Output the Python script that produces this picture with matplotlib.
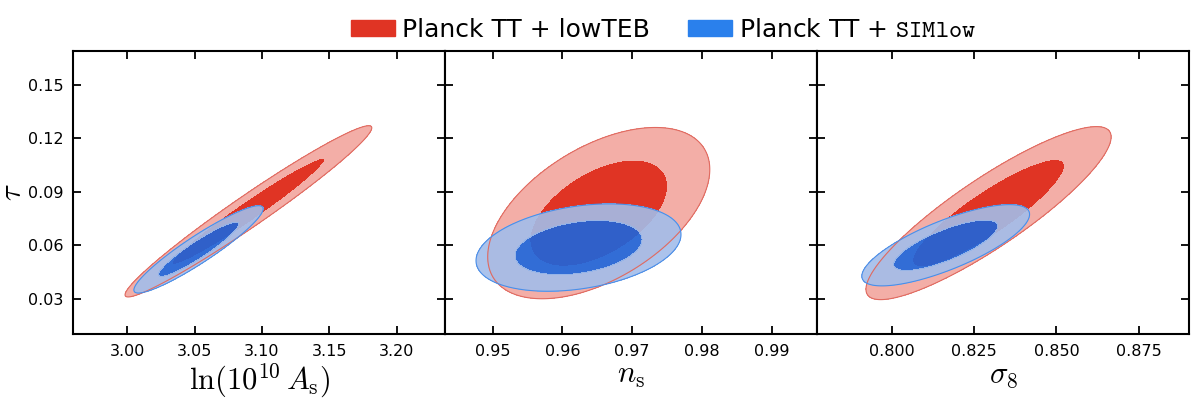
import numpy as np
import matplotlib
matplotlib.use("Agg")
import matplotlib.pyplot as plt
from matplotlib.patches import Patch

plt.rcParams["mathtext.fontset"] = "cm"

# x parameters for the three panels
x_labels = [r"$\ln(10^{10}\,A_{\rm s})$", r"$n_{\rm s}$", r"$\sigma_8$"]
x_limits = [(2.96, 3.236), (0.9432, 0.9965), (0.7774, 0.8903)]
x_ticks = [[3.00, 3.05, 3.10, 3.15, 3.20],
           [0.95, 0.96, 0.97, 0.98, 0.99],
           [0.800, 0.825, 0.850, 0.875]]
x_fmt = ["%.2f", "%.2f", "%.3f"]

tau_limits = (0.0103, 0.169)
tau_ticks = [0.03, 0.06, 0.09, 0.12, 0.15]

# Planck TT + lowTEB (red), gaussian approx per panel
red_mean_x = [3.090, 0.9652, 0.8294]
red_sig_x = [0.0374, 0.0065, 0.0152]
red_mean_tau = [0.079, 0.078, 0.078]
red_sig_tau = [0.0196, 0.0196, 0.0198]
red_rho = [0.975, 0.51, 0.88]

# Planck TT + SIMlow (blue)
blue_mean_x = [3.053, 0.9623, 0.8164]
blue_sig_x = [0.0196, 0.0060, 0.0104]
blue_mean_tau = [0.0577, 0.0587, 0.0600]
blue_sig_tau = [0.0100, 0.0100, 0.0093]
blue_rho = [0.93, 0.30, 0.76]

labels = ["Planck TT + lowTEB", r"Planck TT + $\mathtt{SIMlow}$"]

RED_DARK, RED_LIGHT, RED_LINE = "#E03424", "#F3AEA7", "#E06A60"
BLUE_DARK, BLUE_LIGHT, BLUE_LINE = "#1D66DC", "#A2BDEA", "#4A8EE8"

CHI2 = [0, 2.30, 5.99]


def chi2_grid(xx, yy, mx, sx, my, sy, rho):
    dx = (xx - mx) / sx
    dy = (yy - my) / sy
    return (dx * dx - 2 * rho * dx * dy + dy * dy) / (1 - rho * rho)


fig, axes = plt.subplots(1, 3, figsize=(12, 3.99), dpi=100, sharey=True)
fig.subplots_adjust(left=0.061, right=0.991, bottom=0.163, top=0.873, wspace=0)

for i, ax in enumerate(axes):
    xs = np.linspace(*x_limits[i], 600)
    ys = np.linspace(*tau_limits, 600)
    xx, yy = np.meshgrid(xs, ys)

    c_red = chi2_grid(xx, yy, red_mean_x[i], red_sig_x[i], red_mean_tau[i], red_sig_tau[i], red_rho[i])
    ax.contourf(xx, yy, c_red, levels=CHI2, colors=[RED_DARK, RED_LIGHT])
    ax.contour(xx, yy, c_red, levels=[CHI2[2]], colors=[RED_LINE], linewidths=0.8)

    c_blue = chi2_grid(xx, yy, blue_mean_x[i], blue_sig_x[i], blue_mean_tau[i], blue_sig_tau[i], blue_rho[i])
    ax.contourf(xx, yy, c_blue, levels=CHI2, colors=[BLUE_DARK, BLUE_LIGHT], alpha=0.9)
    ax.contour(xx, yy, c_blue, levels=[CHI2[2]], colors=[BLUE_LINE], linewidths=0.8)

    ax.set_xlim(*x_limits[i])
    ax.set_ylim(*tau_limits)
    ax.set_xticks(x_ticks[i])
    ax.set_xticklabels([x_fmt[i] % t for t in x_ticks[i]])
    ax.set_yticks(tau_ticks)
    ax.set_xlabel(x_labels[i], fontsize=22, labelpad=2)
    ax.tick_params(direction="in", top=True, right=True, length=6, width=1.3, labelsize=11.5, pad=7)
    for s in ax.spines.values():
        s.set_linewidth(1.5)

axes[0].set_yticklabels(["%.2f" % t for t in tau_ticks])
axes[0].set_ylabel(r"$\tau$", fontsize=22)
axes[0].yaxis.set_label_coords(-0.125, 0.5)

handles = [Patch(facecolor=RED_DARK, edgecolor=RED_DARK), Patch(facecolor="#2A80EC", edgecolor="#2A80EC")]
fig.legend(handles, labels, loc="upper center", bbox_to_anchor=(0.553, 1.012), ncol=2,
           frameon=False, fontsize=18, handlelength=1.75, handleheight=0.6, columnspacing=1.5, handletextpad=0.3)

fig.savefig("out.png", dpi=100)
